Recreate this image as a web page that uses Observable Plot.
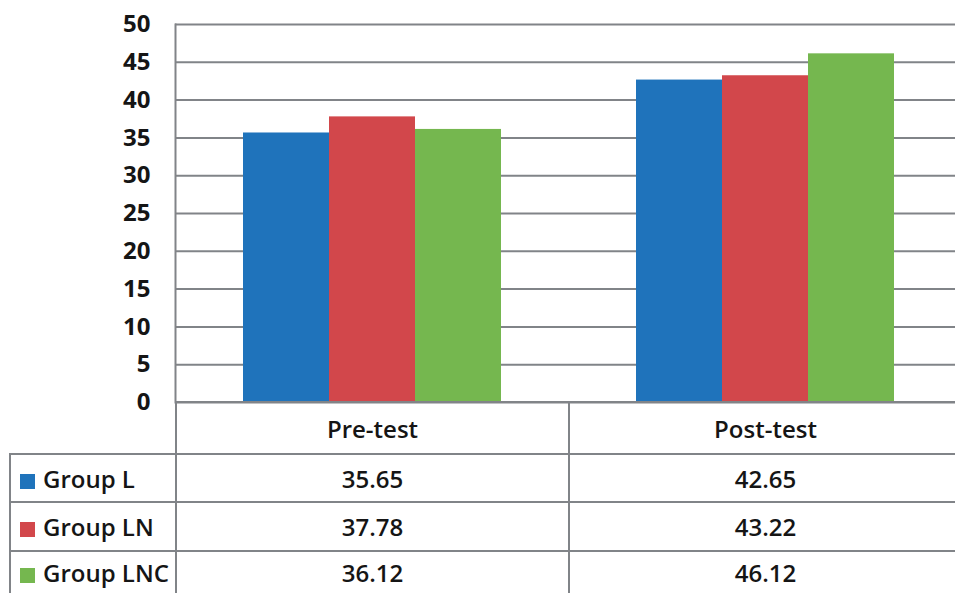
<!DOCTYPE html>
<html>
<head>
<meta charset="utf-8">
<script src="https://cdn.jsdelivr.net/npm/d3@7"></script>
<script src="https://cdn.jsdelivr.net/npm/@observablehq/plot@0.6"></script>
<style>
  html, body { margin: 0; padding: 0; background: #fff; overflow: hidden; }
  #wrap { position: relative; width: 955px; height: 593px; overflow: hidden; font-family: "Open Sans", sans-serif; }
  #wrap svg { position: absolute; left: 0; top: 0; }
  table { position: absolute; left: 9px; top: 401px; border-collapse: collapse; table-layout: fixed; width: 952px; font-family: "Open Sans", sans-serif; font-size: 24px; color: #151515; }
  td { border: 2px solid #818488; padding: 0; text-align: center; font-weight: 600; white-space: nowrap; }
  td.name { text-align: left; padding-left: 9px; }
  td.blank { border-top: none; border-left: none; }
  tr.head td { height: 50px; }
  tr.r0 td { height: 46px; }
  tr.r1 td { height: 47px; }
  tr.r2 td { height: 41px; }
  .sw { display: inline-block; width: 15px; height: 15px; margin-right: 8px; vertical-align: -1px; }
</style>
</head>
<body>
<div id="wrap"></div>
<script>
const tests = ["Pre-test", "Post-test"];
const groups = ["Group L", "Group LN", "Group LNC"];
const preValues = [35.65, 37.78, 36.12];
const postValues = [42.65, 43.22, 46.12];
const colors = ["#1f73bb", "#d2474b", "#75b74f"];
const yTicks = [0, 5, 10, 15, 20, 25, 30, 35, 40, 45, 50];

const data = groups.flatMap((g, i) => [
  {test: tests[0], group: g, value: preValues[i]},
  {test: tests[1], group: g, value: postValues[i]}
]);

const chart = Plot.plot({
  width: 955,
  height: 420,
  marginLeft: 175,
  marginRight: -6,
  marginTop: 24,
  marginBottom: 18,
  fx: {domain: tests, padding: 0, axis: null},
  x: {domain: groups, paddingInner: 0, paddingOuter: 0.76, axis: null},
  y: {domain: [0, 50], ticks: yTicks, label: null},
  color: {domain: groups, range: colors},
  marks: [
    Plot.gridY(yTicks, {stroke: "#818488", strokeOpacity: 1, strokeWidth: 2}),
    Plot.barY(data, {fx: "test", x: "group", y: "value", fill: "group"}),
    Plot.axisY(yTicks, {tickSize: 0, tickPadding: 25, fontSize: 24, fontWeight: "bold", fill: "#151515", fontFamily: "Open Sans", label: null}),
    Plot.frame({anchor: "left", facet: "super", stroke: "#818488", strokeWidth: 2})
  ]
});

const wrap = document.getElementById("wrap");
wrap.appendChild(chart);

const values = [preValues, postValues];
const table = document.createElement("table");
const colgroup = document.createElement("colgroup");
[166, 393, 393].forEach(w => { const c = document.createElement("col"); c.style.width = w + "px"; colgroup.appendChild(c); });
table.appendChild(colgroup);
const head = document.createElement("tr");
head.className = "head";
const blank = document.createElement("td");
blank.className = "blank";
head.appendChild(blank);
tests.forEach(t => { const td = document.createElement("td"); td.textContent = t; head.appendChild(td); });
table.appendChild(head);
groups.forEach((g, i) => {
  const tr = document.createElement("tr");
  tr.className = "r" + i;
  const name = document.createElement("td");
  name.className = "name";
  const sw = document.createElement("span");
  sw.className = "sw";
  sw.style.background = colors[i];
  name.appendChild(sw);
  name.appendChild(document.createTextNode(g));
  tr.appendChild(name);
  values.forEach(v => { const td = document.createElement("td"); td.textContent = v[i].toFixed(2); tr.appendChild(td); });
  table.appendChild(tr);
});
wrap.appendChild(table);
</script>
</body>
</html>
